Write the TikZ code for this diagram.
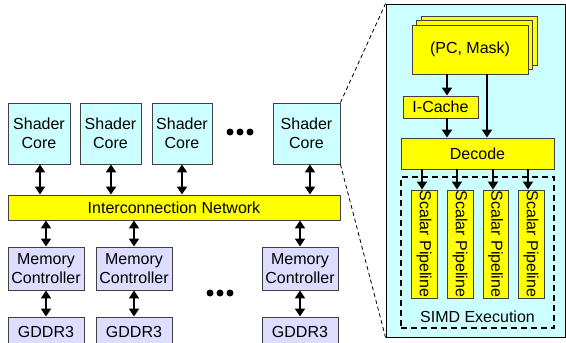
\documentclass[tikz,border=0pt]{standalone}
\usepackage{fontspec}
\setmainfont{Liberation Sans}
\usetikzlibrary{arrows.meta}
\definecolor{corefill}{HTML}{CCFFFF}
\definecolor{memfill}{HTML}{DDDDFF}
\definecolor{yel}{HTML}{FFFF00}
\definecolor{edge}{HTML}{404040}
\tikzset{
  txt/.style={font=\fontsize{16}{19.5}\selectfont},
  box/.style={draw=edge, line width=0.9pt, inner sep=0pt, align=center, txt},
  core/.style={box, fill=corefill},
  mem/.style={box, fill=memfill},
  ybox/.style={box, fill=yel},
  dbl/.style={line width=2.2pt, {Triangle[width=10pt,length=8pt]}-{Triangle[width=10pt,length=8pt]}},
  sgl/.style={line width=2.2pt, -{Triangle[width=10pt,length=8pt]}},
  zoomline/.style={dash pattern=on 4pt off 3pt, line width=0.8pt},
  dotmark/.style={circle, fill=black, inner sep=0pt, minimum size=7pt}
}
\begin{document}
\begin{tikzpicture}[x=1pt,y=-1pt]
\useasboundingbox (0,0) rectangle (566,343);
\clip (0,0) rectangle (566,343);
% right panel
\node[draw=black, line width=0.9pt, fill=corefill, minimum width=179.5, minimum height=333, inner sep=0pt] (panel) at (475.75,170.5) {};
% shader cores
\node[core, minimum width=62, minimum height=61] (sc1) at (39,133.5) {Shader\\Core};
\node[core, minimum width=61, minimum height=61] (sc2) at (110.5,133.5) {Shader\\Core};
\node[core, minimum width=60, minimum height=61] (sc3) at (182,133.5) {Shader\\Core};
\node[core, minimum width=67, minimum height=61] (sc4) at (306.5,133.5) {Shader\\Core};
\node[dotmark] (d1) at (230,132) {};
\node[dotmark] (d2) at (240,132) {};
\node[dotmark] (d3) at (250,132) {};
% interconnect
\node[ybox, minimum width=332, minimum height=25] (net) at (174,207.5) {Interconnection Network};
% memory controllers
\node[mem, minimum width=76, minimum height=43] (mc1) at (46,268.5) {Memory\\Controller};
\node[mem, minimum width=76, minimum height=43] (mc2) at (134,268.5) {Memory\\Controller};
\node[mem, minimum width=76, minimum height=43] (mc3) at (300,268.5) {Memory\\Controller};
\node[dotmark] (e1) at (210,293) {};
\node[dotmark] (e2) at (220,293) {};
\node[dotmark] (e3) at (230,293) {};
% GDDR3
\node[mem, minimum width=76, minimum height=29] (g1) at (46,331.5) {GDDR3};
\node[mem, minimum width=76, minimum height=29] (g2) at (134,331.5) {GDDR3};
\node[mem, minimum width=76, minimum height=29] (g3) at (300,331.5) {GDDR3};
% arrows
\coordinate (a1) at (40,0);
\coordinate (a2) at (111,0);
\coordinate (a3) at (182,0);
\coordinate (a4) at (310,0);
\draw[dbl] (sc1.south -| a1) -- (net.north -| a1);
\draw[dbl] (sc2.south -| a2) -- (net.north -| a2);
\draw[dbl] (sc3.south -| a3) -- (net.north -| a3);
\draw[dbl] (sc4.south -| a4) -- (net.north -| a4);
\draw[dbl] (net.south -| mc1) -- (mc1.north);
\draw[dbl] (net.south -| mc2) -- (mc2.north);
\draw[dbl] (net.south -| mc3) -- (mc3.north);
\draw[dbl] (mc1.south) -- (g1.north);
\draw[dbl] (mc2.south) -- (g2.north);
\draw[dbl] (mc3.south) -- (g3.north);
% zoom lines
\draw[zoomline] (sc4.north east) -- (panel.north west);
\draw[zoomline] (sc4.south east) -- (panel.south west);
% PC stack
\node[ybox, minimum width=116, minimum height=49] (pc3) at (479,40.5) {};
\node[ybox, minimum width=116, minimum height=49] (pc2) at (474.5,45) {};
\node[ybox, minimum width=116, minimum height=49] (pc) at (470,49.5) {(PC, Mask)};
\node[ybox, minimum width=75, minimum height=22] (ic) at (440.5,107) {I-Cache};
\node[ybox, minimum width=153, minimum height=31] (dec) at (477.5,153.5) {Decode};
\coordinate (b1) at (447,0);
\coordinate (b2) at (487,0);
\draw[sgl] (pc.south -| b1) -- (ic.north -| b1);
\draw[sgl] (ic.south -| b1) -- (dec.north -| b1);
\draw[sgl] (pc.south -| b2) -- (dec.north -| b2);
% SIMD box
\node[draw=black, dash pattern=on 6pt off 4pt, line width=1.5pt, minimum width=153, minimum height=151, inner sep=0pt] (simd) at (477.5,252.5) {};
\node[txt, inner sep=0pt] (simdl) at (477.5,317) {SIMD Execution};
\node[ybox, minimum width=26, minimum height=108] (p1) at (424,244) {};
\node[ybox, minimum width=26, minimum height=108] (p2) at (460,244) {};
\node[ybox, minimum width=25, minimum height=108] (p3) at (495.5,244) {};
\node[ybox, minimum width=26, minimum height=108] (p4) at (531,244) {};
\foreach \p in {p1,p2,p3,p4}{
  \node[rotate=-90, txt, inner sep=0pt] at (\p) {Scalar Pipeline};
}
\coordinate (c1) at (422,0);
\coordinate (c2) at (457,0);
\coordinate (c3) at (493,0);
\coordinate (c4) at (528,0);
\draw[sgl] (dec.south -| c1) -- (p1.north -| c1);
\draw[sgl] (dec.south -| c2) -- (p2.north -| c2);
\draw[sgl] (dec.south -| c3) -- (p3.north -| c3);
\draw[sgl] (dec.south -| c4) -- (p4.north -| c4);
\end{tikzpicture}
\end{document}
